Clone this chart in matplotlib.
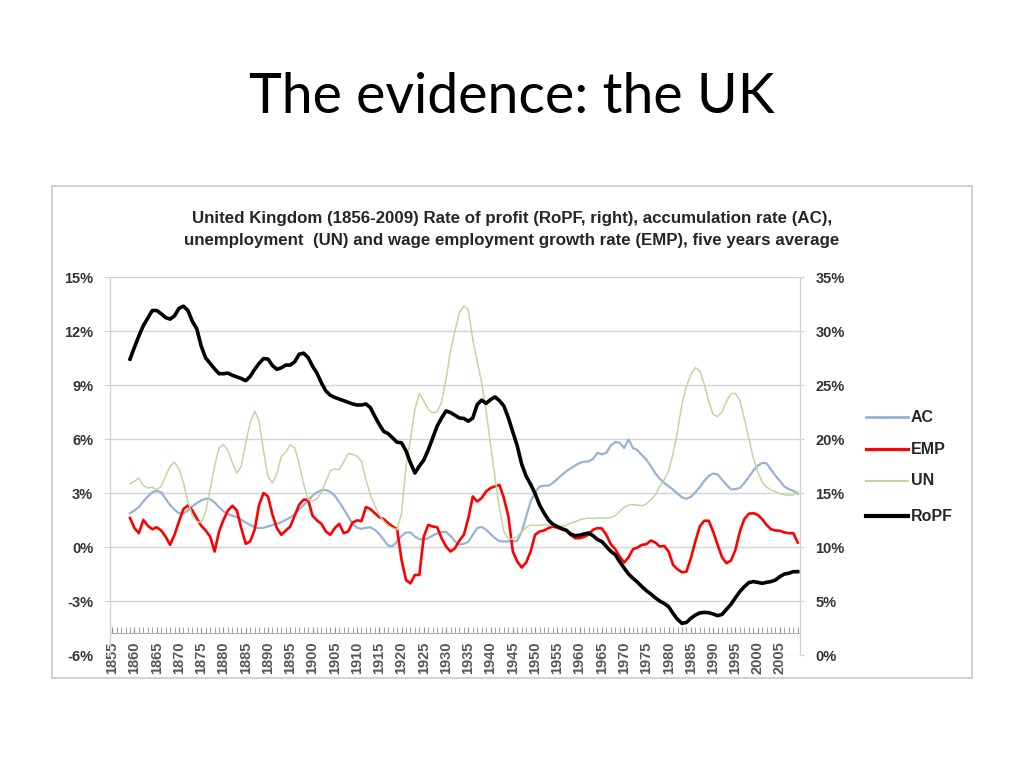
import matplotlib
matplotlib.use('Agg')
import matplotlib.pyplot as plt
from matplotlib.lines import Line2D
from matplotlib.patches import Rectangle
from matplotlib.ticker import MultipleLocator, FuncFormatter

# === データ (1859-2009, 五年平均) ===
years = list(range(1859, 2010))

# 利潤率 RoPF (右軸, %)
ropf = [
    27.4, 28.5, 29.55, 30.5, 31.2, 31.9, 31.9, 31.6, 31.25, 31.1, 31.4,          # 1859-1869
    32.1, 32.3, 31.9, 30.9, 30.2, 28.6, 27.5, 27.0, 26.5, 26.05,                 # 1870-1879
    26.05, 26.1, 25.9, 25.75, 25.6, 25.4, 25.8, 26.45, 27.0, 27.45,              # 1880-1889
    27.4, 26.8, 26.45, 26.6, 26.85, 26.85, 27.15, 27.85, 27.95, 27.55,           # 1890-1899
    26.75, 26.1, 25.2, 24.45, 24.05, 23.85, 23.7, 23.55, 23.4, 23.25,            # 1900-1909
    23.15, 23.15, 23.25, 22.9, 22.1, 21.35, 20.7, 20.5, 20.1, 19.7,              # 1910-1919
    19.65, 18.9, 17.8, 16.85, 17.5, 18.05, 19.0, 20.1, 21.2, 21.95,              # 1920-1929
    22.6, 22.45, 22.2, 21.95, 21.9, 21.65, 21.95, 23.2, 23.6, 23.3,              # 1930-1939
    23.65, 23.9, 23.55, 23.05, 21.95, 20.65, 19.35, 17.65, 16.55, 15.8,          # 1940-1949
    14.95, 13.9, 13.15, 12.5, 12.1, 11.9, 11.7, 11.55, 11.2, 11.05,              # 1950-1959
    11.1, 11.2, 11.3, 11.05, 10.7, 10.5, 10.05, 9.6, 9.3, 8.65,                  # 1960-1969
    8.05, 7.5, 7.1, 6.75, 6.33, 5.96, 5.65, 5.3, 5.0, 4.78,                      # 1970-1979
    4.47, 3.85, 3.3, 2.93, 3.02, 3.4, 3.7, 3.9, 3.95, 3.92,                      # 1980-1989
    3.8, 3.64, 3.76, 4.23, 4.7, 5.3, 5.87, 6.33, 6.7, 6.8,                       # 1990-1999
    6.73, 6.64, 6.73, 6.8, 6.95, 7.26, 7.5, 7.57, 7.72, 7.72,                    # 2000-2009
]

# 雇用増加率 EMP (左軸, %)
emp = [
    1.61, 1.05, 0.77, 1.51, 1.18, 0.99, 1.10, 0.92, 0.58, 0.12, 0.68,
    1.42, 2.11, 2.31, 2.03, 1.61, 1.18, 0.92, 0.58, -0.25, 0.86,
    1.51, 2.03, 2.29, 2.03, 1.05, 0.18, 0.31, 0.96, 2.35, 3.0,
    2.81, 1.79, 1.05, 0.68, 0.92, 1.14, 1.74, 2.35, 2.63, 2.63,
    1.74, 1.48, 1.29, 0.86, 0.68, 1.05, 1.29, 0.77, 0.86, 1.36,
    1.48, 1.44, 2.22, 2.11, 1.88, 1.66, 1.55, 1.33, 1.14, 0.99,
    -0.72, -1.83, -2.02, -1.55, -1.55, 0.58, 1.23, 1.14, 1.10, 0.49,
    0.03, -0.25, -0.07, 0.36, 0.68, 1.6, 2.81, 2.53, 2.72, 3.09,
    3.28, 3.37, 3.45, 2.72, 1.70, -0.25, -0.81, -1.14, -0.86, -0.25,
    0.68, 0.86, 0.92, 1.05, 1.14, 1.07, 0.99, 0.92, 0.66, 0.49,
    0.49, 0.57, 0.68, 0.96, 1.05, 1.03, 0.68, 0.16, -0.12, -0.53,
    -0.86, -0.57, -0.12, -0.03, 0.12, 0.16, 0.36, 0.25, 0.03, 0.06,
    -0.25, -0.99, -1.24, -1.40, -1.37, -0.62, 0.31, 1.14, 1.46, 1.46,
    0.86, 0.12, -0.57, -0.90, -0.75, -0.16, 0.86, 1.55, 1.85, 1.88,
    1.79, 1.55, 1.23, 0.99, 0.92, 0.90, 0.81, 0.77, 0.77, 0.25,
]

# 蓄積率 AC (左軸, %)
ac = [
    1.88, 2.03, 2.22, 2.53, 2.81, 3.04, 3.13, 3.04, 2.68, 2.33, 2.07,
    1.88, 1.87, 2.03, 2.26, 2.44, 2.59, 2.68, 2.66, 2.48, 2.22,
    1.98, 1.83, 1.74, 1.66, 1.51, 1.36, 1.23, 1.10, 1.05, 1.07,
    1.14, 1.22, 1.29, 1.38, 1.51, 1.64, 1.83, 2.09, 2.33, 2.59,
    2.85, 3.04, 3.15, 3.17, 3.07, 2.85, 2.50, 2.11, 1.70, 1.29,
    1.07, 1.01, 1.07, 1.09, 0.96, 0.72, 0.40, 0.08, 0.05, 0.31,
    0.62, 0.81, 0.81, 0.58, 0.44, 0.42, 0.49, 0.64, 0.75, 0.84,
    0.83, 0.62, 0.31, 0.14, 0.18, 0.29, 0.68, 1.05, 1.12, 0.96,
    0.72, 0.49, 0.32, 0.31, 0.31, 0.31, 0.34, 0.86, 1.70, 2.53,
    3.04, 3.35, 3.41, 3.41, 3.56, 3.78, 4.0, 4.21, 4.37, 4.52,
    4.67, 4.74, 4.76, 4.89, 5.23, 5.15, 5.23, 5.64, 5.84, 5.79,
    5.5, 5.97, 5.5, 5.38, 5.10, 4.86, 4.49, 4.10, 3.80, 3.56,
    3.37, 3.19, 2.96, 2.76, 2.68, 2.79, 3.04, 3.33, 3.67, 3.95,
    4.08, 4.04, 3.74, 3.46, 3.20, 3.22, 3.28, 3.56, 3.89, 4.24,
    4.52, 4.67, 4.65, 4.30, 3.97, 3.67, 3.35, 3.22, 3.13, 2.96,
]

# 失業率 UN (左軸, %)
un = [
    3.52, 3.65, 3.84, 3.41, 3.28, 3.33, 3.19, 3.37, 3.93, 4.49, 4.71,
    4.34, 3.59, 2.53, 1.74, 1.42, 1.36, 1.98, 3.19, 4.49, 5.51,
    5.69, 5.38, 4.67, 4.11, 4.49, 5.79, 6.90, 7.55, 6.99, 5.32,
    3.93, 3.56, 4.08, 5.04, 5.27, 5.69, 5.51, 4.62, 3.52, 2.63,
    2.55, 2.68, 3.04, 3.65, 4.24, 4.34, 4.30, 4.73, 5.19, 5.15,
    5.04, 4.76, 3.74, 2.91, 2.29, 1.79, 1.42, 1.18, 1.05, 0.96,
    1.88, 4.49, 5.97, 7.64, 8.54, 8.11, 7.64, 7.46, 7.51, 8.05,
    9.32, 10.89, 12.01, 13.03, 13.40, 13.18, 11.54, 10.34, 9.13, 7.55,
    5.69, 3.84, 2.16, 0.86, 0.45, 0.44, 0.58, 0.84, 1.09, 1.22,
    1.20, 1.20, 1.23, 1.22, 1.18, 1.14, 1.14, 1.20, 1.33, 1.40,
    1.51, 1.57, 1.61, 1.59, 1.61, 1.61, 1.61, 1.64, 1.74, 1.98,
    2.20, 2.33, 2.35, 2.33, 2.29, 2.39, 2.63, 2.89, 3.37, 3.74,
    4.24, 5.19, 6.44, 7.96, 8.94, 9.59, 9.97, 9.78, 9.04, 8.11,
    7.36, 7.25, 7.49, 8.11, 8.52, 8.54, 8.15, 7.14, 6.06, 4.95,
    4.21, 3.61, 3.33, 3.17, 3.07, 2.96, 2.91, 2.87, 2.89, 3.09,
]

series_names = ['AC', 'EMP', 'UN', 'RoPF']
series_colors = ['#95b3d7', '#ff0000', '#c3d69b', '#000000']
series_widths = [1.6, 1.9, 1.1, 2.6]

NARROW = ['Liberation Sans Narrow', 'Liberation Sans', 'DejaVu Sans']

fig = plt.figure(figsize=(10.24, 7.68), dpi=100)
fig.patch.set_facecolor('white')

# スライドタイトル
fig.text(0.5, 0.873, 'The evidence: the UK', ha='center', va='center',
         fontsize=40, family=['Lato', 'DejaVu Sans'], fontweight='normal', color='#000000')

# グラフ枠
fig.patches.append(Rectangle((0.0508, 0.1172), 0.8984, 0.6406, transform=fig.transFigure,
                             fill=False, edgecolor='#c8c8c8', linewidth=1.2))

fig.text(0.5, 0.701,
         'United Kingdom (1856-2009) Rate of profit (RoPF, right), accumulation rate (AC),\n'
         'unemployment  (UN) and wage employment growth rate (EMP), five years average',
         ha='center', va='center', fontsize=12.2, family=NARROW, fontweight='bold',
         color='#262626', linespacing=1.6)

ax = fig.add_axes([0.1074, 0.1471, 0.6738, 0.4922])
ax2 = ax.twinx()

for vals, name, c, lw in zip([ac, emp, un], series_names[:3], series_colors[:3], series_widths[:3]):
    ax.plot(years, vals, color=c, linewidth=lw, label=name, solid_joinstyle='round')
ax2.plot(years, ropf, color=series_colors[3], linewidth=series_widths[3], label='RoPF',
         solid_joinstyle='round')

ax.set_xlim(1854.5, 2009.5)
ax.set_ylim(-6, 15)
ax2.set_ylim(0, 35)
ax.yaxis.set_major_locator(MultipleLocator(3))
ax2.yaxis.set_major_locator(MultipleLocator(5))
pct = FuncFormatter(lambda v, p: f'{v:.0f}%')
ax.yaxis.set_major_formatter(pct)
ax2.yaxis.set_major_formatter(pct)
ax.grid(axis='y', color='#d4d4d4', linewidth=1.0)
ax.set_axisbelow(True)

for a in (ax, ax2):
    a.spines['top'].set_visible(False)
    a.spines['left'].set_color('#d0d0d0')
    a.spines['right'].set_color('#d0d0d0')
    a.patch.set_alpha(0)
ax2.spines['bottom'].set_visible(False)
ax.spines['bottom'].set_position(('data', -4.78))
ax.spines['bottom'].set_color('#b0b0b0')

ax.xaxis.set_major_locator(MultipleLocator(5))
ax.xaxis.set_minor_locator(MultipleLocator(1))
ax.xaxis.set_major_formatter(FuncFormatter(lambda v, p: f'{v:.0f}'))
ax.tick_params(axis='x', which='both', direction='in', color='#909090', length=4, pad=6,
               labelsize=10.5, labelcolor='#555555', labelrotation=90)
ax.tick_params(axis='y', color='#d0d0d0', length=4, pad=8, labelsize=10.5, labelcolor='#333333')
ax2.tick_params(axis='y', color='#d0d0d0', length=3, pad=8, labelsize=10.5, labelcolor='#333333')
for lab in ax.get_xticklabels() + ax.get_yticklabels() + ax2.get_yticklabels():
    lab.set_family(NARROW)
    lab.set_fontweight('bold')

# 凡例
leg_y = [0.457, 0.415, 0.374, 0.328]
for name, c, lw, y in zip(series_names, series_colors, series_widths, leg_y):
    fig.add_artist(Line2D([866 / 1024, 908 / 1024], [y, y], transform=fig.transFigure,
                          color=c, linewidth=lw + 0.4))
    fig.text(911 / 1024, y, name, ha='left', va='center', fontsize=11.5, family=NARROW,
             fontweight='bold', color='#262626')

plt.savefig('out.png', dpi=100, facecolor='white')
